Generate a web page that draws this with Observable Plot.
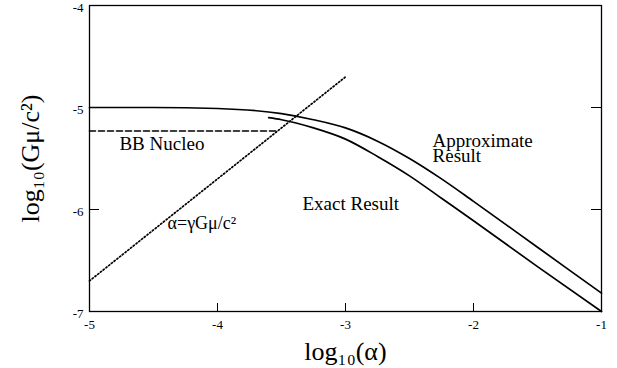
<!DOCTYPE html>
<html><head><meta charset="utf-8">
<script src="https://cdn.jsdelivr.net/npm/d3@7"></script>
<script src="https://cdn.jsdelivr.net/npm/@observablehq/plot@0.6"></script>
<style>body{margin:0;background:#fff} svg text{font-family:"Liberation Serif",serif}</style>
</head><body><div id="chart"></div>
<script>
// Approximate result (upper solid curve)
const approxAlpha = [-5, -4.5, -4, -3.5, -3.25, -3, -2.75, -2.5, -2.25, -2, -1.5, -1];
const approxG     = [-5.00, -5.00, -5.01, -5.06, -5.12, -5.20, -5.33, -5.50, -5.70, -5.92, -6.37, -6.82];
// Exact result (lower solid curve)
const exactAlpha = [-3.6, -3.5, -3.25, -3, -2.75, -2.5, -2.25, -2, -1.5, -1];
const exactG     = [-5.10, -5.12, -5.20, -5.31, -5.48, -5.67, -5.89, -6.11, -6.56, -7.00];
// BB nucleosynthesis bound (dashed)
const bbnAlpha = [-5, -3.53];
const bbnG     = [-5.23, -5.23];
// alpha = gamma G mu / c^2 (dotted)
const relAlpha = [-5, -3];
const relG     = [-6.70, -4.70];
// ticks
const xTicks = [-5, -4, -3, -2, -1];
const yTicks = [-7, -6, -5, -4];
// annotations
const noteText  = ["BB Nucleo", "Exact Result", "Approximate", "Result"];
const noteAlpha = [-4.766, -3.336, -2.32, -2.32];
const noteG     = [-5.353, -5.95, -5.33, -5.47];
const relText = ["α=γGμ/c²"];
const relTextAlpha = [-4.39];
const relTextG = [-6.13];

const FONT = "Liberation Serif";
const zip = (xs, ys) => xs.map((x, i) => ({x, y: ys[i]}));
const notes = noteText.map((t, i) => ({t, x: noteAlpha[i], y: noteG[i]}));
const relNotes = relText.map((t, i) => ({t, x: relTextAlpha[i], y: relTextG[i]}));
const fmt = d => String(d);

const chart = Plot.plot({
  width: 617, height: 368,
  marginLeft: 89, marginRight: 16, marginTop: 5, marginBottom: 57,
  x: {domain: [-5, -1]},
  y: {domain: [-7, -4]},
  style: {fontFamily: FONT, background: "white", color: "black"},
  marks: [
    Plot.axisX(xTicks, {tickSize: 0, tickPadding: 8, fontSize: 13, fontFamily: FONT, tickFormat: fmt, label: null}),
    Plot.axisY(yTicks, {tickSize: 0, tickPadding: 6, dy: 2, fontSize: 13, fontFamily: FONT, tickFormat: fmt, label: null}),
    Plot.tickX(xTicks.slice(1, -1), {x: d => d, insetTop: 298, stroke: "black", strokeWidth: 1}),
    Plot.tickY(yTicks.slice(1, -1), {y: d => d, insetRight: 502, stroke: "black", strokeWidth: 1}),
    Plot.tickY(yTicks.slice(1, -1), {y: d => d, insetLeft: 502, stroke: "black", strokeWidth: 1}),
    Plot.line(zip(relAlpha, relG), {x: "x", y: "y", stroke: "black", strokeWidth: 1.7, strokeDasharray: "1.3,2.2"}),
    Plot.line(zip(bbnAlpha, bbnG), {x: "x", y: "y", stroke: "black", strokeWidth: 1.6, strokeDasharray: "6,3"}),
    Plot.line(zip(approxAlpha, approxG), {x: "x", y: "y", stroke: "black", strokeWidth: 1.7, curve: "monotone-x"}),
    Plot.line(zip(exactAlpha, exactG), {x: "x", y: "y", stroke: "black", strokeWidth: 1.7, curve: "monotone-x"}),
    Plot.frame({stroke: "black", strokeWidth: 1.3}),
    Plot.text(notes, {x: "x", y: "y", text: "t", textAnchor: "start", lineAnchor: "middle", fontSize: 19, fontFamily: FONT, fill: "black"}),
    Plot.text(relNotes, {x: "x", y: "y", text: "t", textAnchor: "start", lineAnchor: "middle", fontSize: 18, fontFamily: FONT, fill: "black"}),
    Plot.text(["log₁₀(Gμ/c²)"], {frameAnchor: "left", dx: -59, rotate: -90, textAnchor: "middle", lineAnchor: "middle", fontSize: 26, fontFamily: FONT, fill: "black"}),
    Plot.text(["log₁₀(α)"], {frameAnchor: "bottom", dy: 40, textAnchor: "middle", lineAnchor: "middle", fontSize: 26, fontFamily: FONT, fill: "black"})
  ]
});
document.getElementById("chart").appendChild(chart);
</script>
</body></html>
